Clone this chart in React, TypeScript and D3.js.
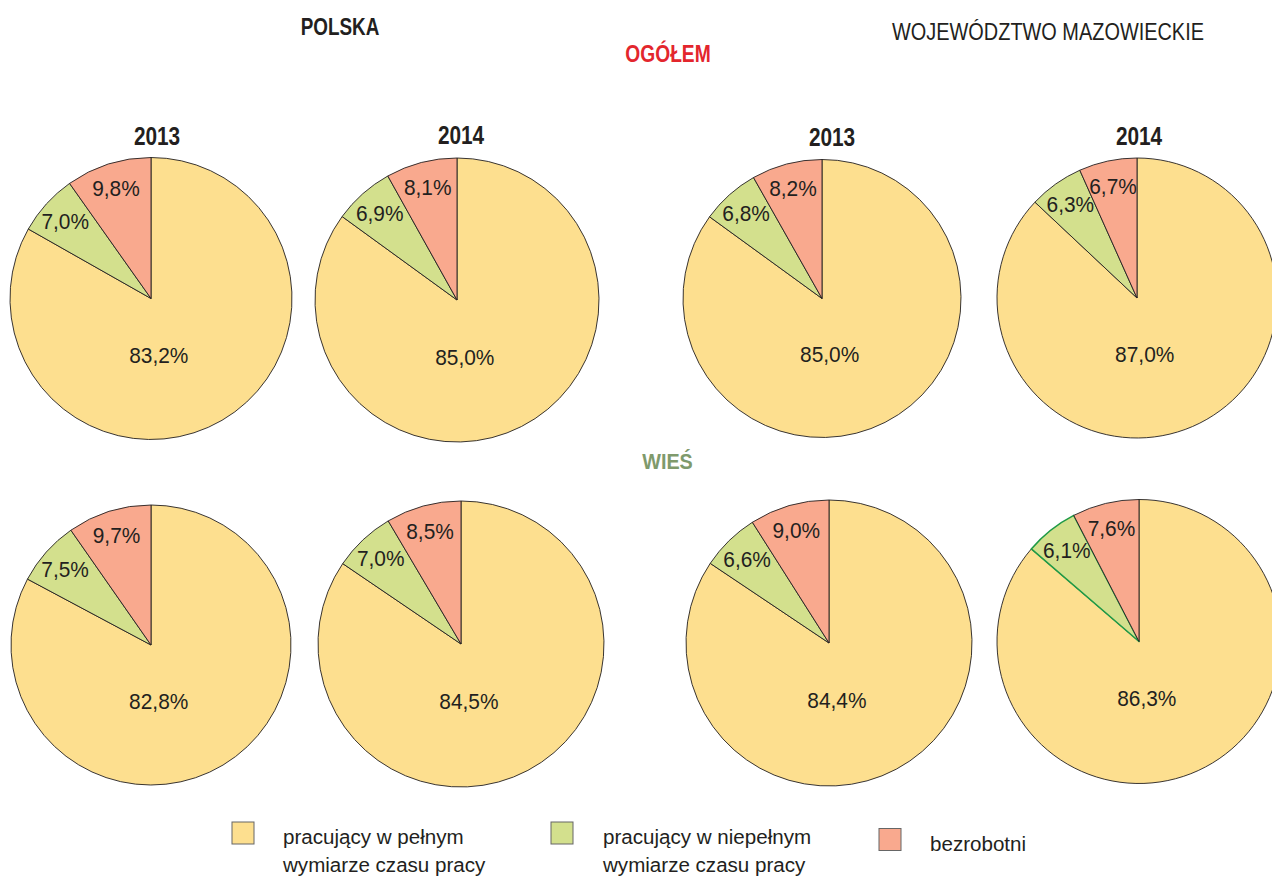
import React from "react";
import * as d3 from "d3";

// ---- data ----
const regions = ["POLSKA", "WOJEWÓDZTWO MAZOWIECKIE"];
const groups = ["OGÓŁEM", "WIEŚ"];
const years = ["2013", "2014", "2013", "2014"];
const categories = [
  "pracujący w pełnym wymiarze czasu pracy",
  "pracujący w niepełnym wymiarze czasu pracy",
  "bezrobotni",
];
const legendLines = [
  ["pracujący w pełnym", "wymiarze czasu pracy"],
  ["pracujący w niepełnym", "wymiarze czasu pracy"],
  ["bezrobotni"],
];
// pie order: OGÓŁEM (Polska 2013, 2014, Mazowieckie 2013, 2014), then WIEŚ (same order)
const fullTime = [83.2, 85.0, 85.0, 87.0, 82.8, 84.5, 84.4, 86.3];
const partTime = [7.0, 6.9, 6.8, 6.3, 7.5, 7.0, 6.6, 6.1];
const unemployed = [9.8, 8.1, 8.2, 6.7, 9.7, 8.5, 9.0, 7.6];

// ---- styles / layout ----
const W = 1272;
const H = 877;
const COLORS = ["#FDDF8F", "#D3E08D", "#F9A98E"];
const INK = "#231F20";
const FONT = "'Liberation Sans', Arial, sans-serif";
const pieLayout = [
  { cx: 151, cy: 298.5, r: 141 },
  { cx: 457, cy: 300, r: 142 },
  { cx: 822, cy: 298.5, r: 139 },
  { cx: 1137, cy: 298, r: 140 },
  { cx: 151, cy: 645, r: 140 },
  { cx: 461, cy: 644, r: 143 },
  { cx: 829, cy: 643, r: 143 },
  { cx: 1139, cy: 641.5, r: 142 },
];
const yearPos = [
  { x: 157, y: 145 },
  { x: 461, y: 144 },
  { x: 832, y: 146 },
  { x: 1139, y: 145 },
];
const outlined = { pie: 7, slice: 1, color: "#1F9A46" };
const legendPos = [
  { sx: 232, sy: 822, tx: 283, ty: 844 },
  { sx: 551, sy: 822, tx: 603, ty: 844 },
  { sx: 879, sy: 828.5, tx: 930, ty: 851 },
];

const fmt = (v: number) => v.toFixed(1).replace(".", ",") + "%";

type TProps = {
  x: number;
  y: number;
  sx?: number;
  size: number;
  bold?: boolean;
  fill?: string;
  anchor?: "start" | "middle" | "end";
  dy?: string;
  children: React.ReactNode;
};

function T({ x, y, sx = 1, size, bold, fill = INK, anchor = "middle", dy, children }: TProps) {
  return (
    <text
      transform={`translate(${x},${y}) scale(${sx},1)`}
      textAnchor={anchor}
      fontSize={size}
      fontWeight={bold ? "bold" : "normal"}
      fill={fill}
      dy={dy}
    >
      {children}
    </text>
  );
}

export default function App() {
  const pie = d3
    .pie<number>()
    .sort(null)
    .value((d) => d)
    .startAngle(0)
    .endAngle(2 * Math.PI);

  const pies = fullTime.map((f, i) => [f, partTime[i], unemployed[i]]);

  return (
    <svg
      width={W}
      height={H}
      viewBox={`0 0 ${W} ${H}`}
      style={{ position: "absolute", left: 0, top: 0, display: "block", background: "#fff" }}
      fontFamily={FONT}
    >
      {/* headers */}
      <T x={340} y={35} sx={0.77} size={24.5} bold>
        {regions[0]}
      </T>
      <T x={1048} y={40} sx={0.83} size={24}>
        {regions[1]}
      </T>
      <T x={668} y={61.5} sx={0.8} size={24} bold fill="#E3262D">
        {groups[0]}
      </T>
      <T x={667.5} y={468.5} sx={0.9} size={22} bold fill="#7F9A6C">
        {groups[1]}
      </T>
      {years.map((y, i) => (
        <T key={"y" + i} x={yearPos[i].x} y={yearPos[i].y} sx={0.8} size={26} bold>
          {y}
        </T>
      ))}

      {/* pies */}
      {pies.map((vals, i) => {
        const { cx, cy, r } = pieLayout[i];
        const arcs = pie(vals);
        const arc = d3.arc<d3.PieArcDatum<number>>().innerRadius(0).outerRadius(r);
        const labelArc = d3
          .arc<d3.PieArcDatum<number>>()
          .innerRadius(r * 0.82)
          .outerRadius(r * 0.82);
        return (
          <g key={"p" + i} transform={`translate(${cx},${cy})`}>
            {arcs.map((a, j) => {
              const isOutlined = outlined.pie === i && outlined.slice === j;
              return (
                <path
                  key={j}
                  d={arc(a) || ""}
                  fill={COLORS[j]}
                  stroke={isOutlined ? outlined.color : INK}
                  strokeWidth={isOutlined ? 1.6 : 0.9}
                  strokeLinejoin="round"
                />
              );
            })}
            {arcs.map((a, j) => {
              let x: number, y: number;
              if (j === 0) {
                x = r * 0.055;
                y = r * 0.4;
              } else {
                [x, y] = labelArc.centroid(a);
              }
              return (
                <T key={"t" + j} x={x} y={y} dy="0.36em" sx={0.95} size={22}>
                  {fmt(a.data)}
                </T>
              );
            })}
          </g>
        );
      })}

      {/* legend */}
      {categories.map((c, i) => (
        <g key={"l" + i}>
          <title>{c}</title>
          <rect
            x={legendPos[i].sx}
            y={legendPos[i].sy}
            width={22}
            height={22}
            fill={COLORS[i]}
            stroke="#666"
            strokeWidth={1}
          />
          {legendLines[i].map((ln, k) => (
            <T
              key={k}
              x={legendPos[i].tx}
              y={legendPos[i].ty + k * 27.5}
              size={21}
              sx={0.98}
              anchor="start"
            >
              {ln}
            </T>
          ))}
        </g>
      ))}
    </svg>
  );
}
